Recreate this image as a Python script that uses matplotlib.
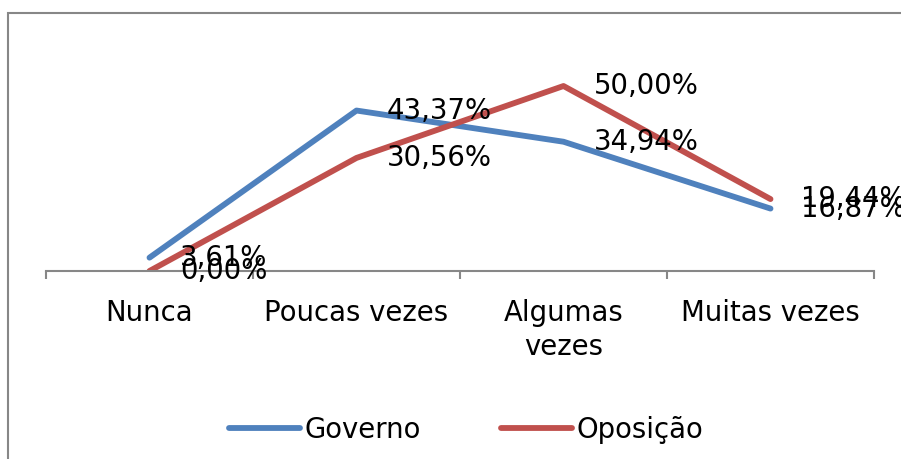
import matplotlib
matplotlib.use("Agg")
import matplotlib.pyplot as plt
from matplotlib.patches import Rectangle

categories = ["Nunca", "Poucas vezes", "Algumas vezes", "Muitas vezes"]
tick_labels = ["Nunca", "Poucas vezes", "Algumas\nvezes", "Muitas vezes"]
governo = [3.61, 43.37, 34.94, 16.87]
oposicao = [0.00, 30.56, 50.00, 19.44]
series_names = ["Governo", "Oposição"]
colors = ["#4F81BD", "#C0504D"]

plt.rcParams['font.family'] = ['DejaVu Sans']
FS = 19.8

fig = plt.figure(figsize=(9.01, 4.59), dpi=100)
W, H = 901, 459
ax = fig.add_axes([46 / W, 1 - 271 / H, (874 - 46) / W, (271 - 49) / H])

x = list(range(len(categories)))
lines = []
for vals, name, c in zip([governo, oposicao], series_names, colors):
    ln, = ax.plot(x, vals, color=c, lw=4.2, solid_capstyle='round', label=name)
    lines.append(ln)
    for xi, v in zip(x, vals):
        ax.annotate(f"{v:.2f}%".replace('.', ','), (xi, v), xytext=(22, 0),
                    textcoords='offset points', ha='left', va='center',
                    fontsize=FS, color='black')

ax.set_xlim(-0.5, len(categories) - 0.5)
ax.set_ylim(0, 60)
for s in ['left', 'top', 'right']:
    ax.spines[s].set_visible(False)
ax.spines['bottom'].set_color('#878787')
ax.spines['bottom'].set_linewidth(1.5)
ax.set_yticks([])
ax.set_xticks(x)
ax.set_xticklabels(tick_labels, fontsize=FS, linespacing=1.3)
ax.tick_params(axis='x', which='major', length=0, pad=20)
ax.set_xticks([i - 0.5 for i in range(len(categories) + 1)], minor=True)
ax.tick_params(axis='x', which='minor', length=6, width=1.5, color='#878787')

fig.legend(handles=lines, labels=series_names, loc='center',
           bbox_to_anchor=(466 / W, 1 - 430 / H), ncol=2, frameon=False,
           fontsize=FS, handlelength=2.6, handletextpad=0.15, columnspacing=2.9)

fig.patches.append(Rectangle((8 / W, -0.1), 1.2, 1 - 13 / H + 0.1,
                             transform=fig.transFigure, fill=False,
                             edgecolor='#878787', lw=1.5))

fig.savefig("out.png", dpi=100)
